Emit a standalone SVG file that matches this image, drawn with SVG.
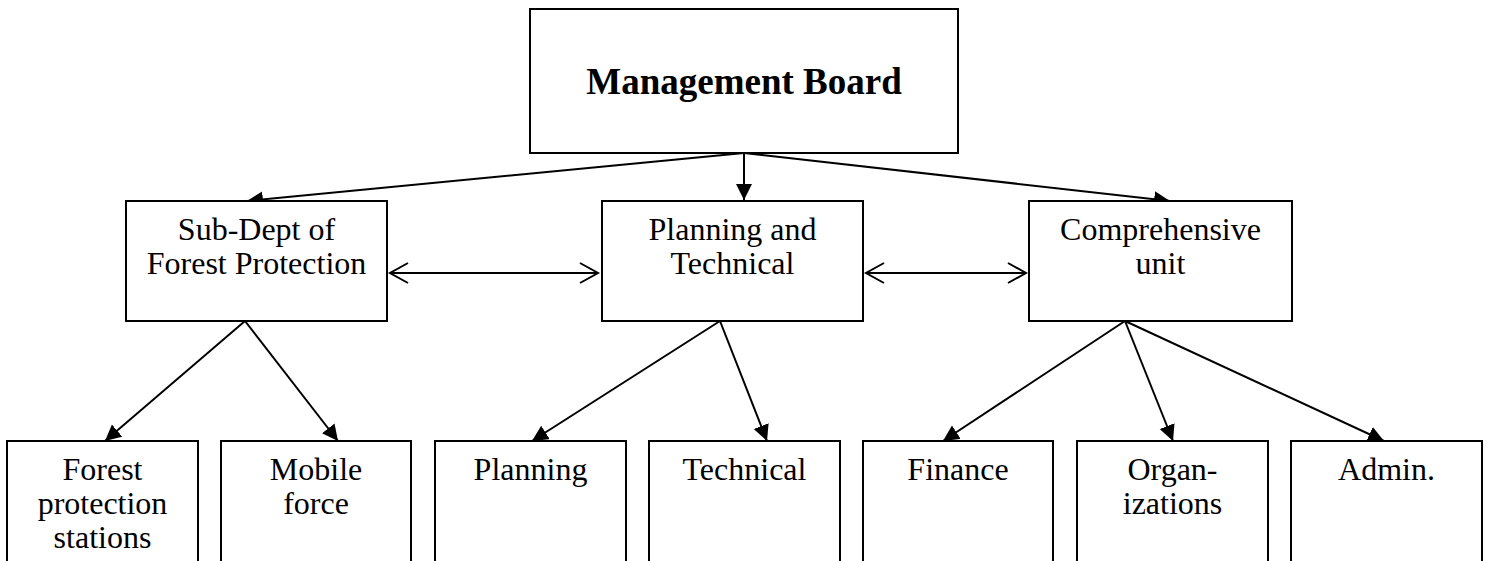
<svg xmlns="http://www.w3.org/2000/svg" width="1488" height="561" viewBox="0 0 1488 561">
<style>
.box{fill:#fff;stroke:#000;stroke-width:2}
.t{font-family:"Liberation Serif","Times New Roman",serif;font-size:32px;fill:#000;text-anchor:middle}
.tb{font-family:"Liberation Serif","Times New Roman",serif;font-size:37px;font-weight:bold;fill:#000;text-anchor:middle}
.c{stroke:#000;stroke-width:2;fill:none}
</style>
<defs>
<marker id="fa" markerUnits="userSpaceOnUse" markerWidth="17" markerHeight="17" refX="16" refY="8" orient="auto" viewBox="0 0 17 17">
<path d="M0,0 L16,8 L0,16 z" fill="#000"/>
</marker>
<marker id="oa" markerUnits="userSpaceOnUse" markerWidth="22" markerHeight="24" refX="19" refY="11" orient="auto" viewBox="0 0 22 24">
<path d="M1,1 L19,11 L1,21" fill="none" stroke="#000" stroke-width="2"/>
</marker>
<marker id="os" markerUnits="userSpaceOnUse" markerWidth="22" markerHeight="24" refX="19" refY="11" orient="auto-start-reverse" viewBox="0 0 22 24">
<path d="M1,1 L19,11 L1,21" fill="none" stroke="#000" stroke-width="2"/>
</marker>
</defs>
<rect width="1488" height="561" fill="#fff"/>
<g id="connectors">
<line class="c" x1="744" y1="153" x2="744" y2="200" marker-end="url(#fa)"/>
<line class="c" x1="744" y1="153" x2="247" y2="201" marker-end="url(#fa)"/>
<line class="c" x1="744" y1="153" x2="1170" y2="201" marker-end="url(#fa)"/>
<line class="c" x1="390" y1="273" x2="598" y2="273" marker-start="url(#os)" marker-end="url(#oa)"/>
<line class="c" x1="866" y1="273" x2="1026" y2="273" marker-start="url(#os)" marker-end="url(#oa)"/>
<line class="c" x1="245" y1="321" x2="105" y2="441" marker-end="url(#fa)"/>
<line class="c" x1="245" y1="321" x2="338" y2="441" marker-end="url(#fa)"/>
<line class="c" x1="720" y1="321" x2="532" y2="441" marker-end="url(#fa)"/>
<line class="c" x1="720" y1="321" x2="767" y2="441" marker-end="url(#fa)"/>
<line class="c" x1="1125" y1="321" x2="943" y2="441" marker-end="url(#fa)"/>
<line class="c" x1="1125" y1="321" x2="1173" y2="441" marker-end="url(#fa)"/>
<line class="c" x1="1125" y1="321" x2="1384" y2="441" marker-end="url(#fa)"/>
</g>
<g id="management-board">
<rect class="box" x="530" y="9" width="428" height="144"/>
<text class="tb" x="744" y="94">Management Board</text>
</g>
<g id="sub-dept">
<rect class="box" x="126" y="201" width="261" height="120"/>
<text class="t" x="256.5" y="240">Sub-Dept of</text>
<text class="t" x="256.5" y="274">Forest Protection</text>
</g>
<g id="planning-technical">
<rect class="box" x="602" y="201" width="261" height="120"/>
<text class="t" x="732.5" y="240">Planning and</text>
<text class="t" x="732.5" y="274">Technical</text>
</g>
<g id="comprehensive">
<rect class="box" x="1029" y="201" width="263" height="120"/>
<text class="t" x="1160.5" y="240">Comprehensive</text>
<text class="t" x="1160.5" y="274">unit</text>
</g>
<g id="forest-stations">
<rect class="box" x="7" y="441" width="191" height="130"/>
<text class="t" x="102.5" y="480">Forest</text>
<text class="t" x="102.5" y="514">protection</text>
<text class="t" x="102.5" y="548">stations</text>
</g>
<g id="mobile-force">
<rect class="box" x="221" y="441" width="190" height="130"/>
<text class="t" x="316" y="480">Mobile</text>
<text class="t" x="316" y="514">force</text>
</g>
<g id="planning">
<rect class="box" x="435" y="441" width="191" height="130"/>
<text class="t" x="530.5" y="480">Planning</text>
</g>
<g id="technical">
<rect class="box" x="649" y="441" width="191" height="130"/>
<text class="t" x="744.5" y="480">Technical</text>
</g>
<g id="finance">
<rect class="box" x="863" y="441" width="190" height="130"/>
<text class="t" x="958" y="480">Finance</text>
</g>
<g id="organizations">
<rect class="box" x="1077" y="441" width="191" height="130"/>
<text class="t" x="1172.5" y="480">Organ-</text>
<text class="t" x="1172.5" y="514">izations</text>
</g>
<g id="admin">
<rect class="box" x="1291" y="441" width="191" height="130"/>
<text class="t" x="1386.5" y="480">Admin.</text>
</g>
</svg>
